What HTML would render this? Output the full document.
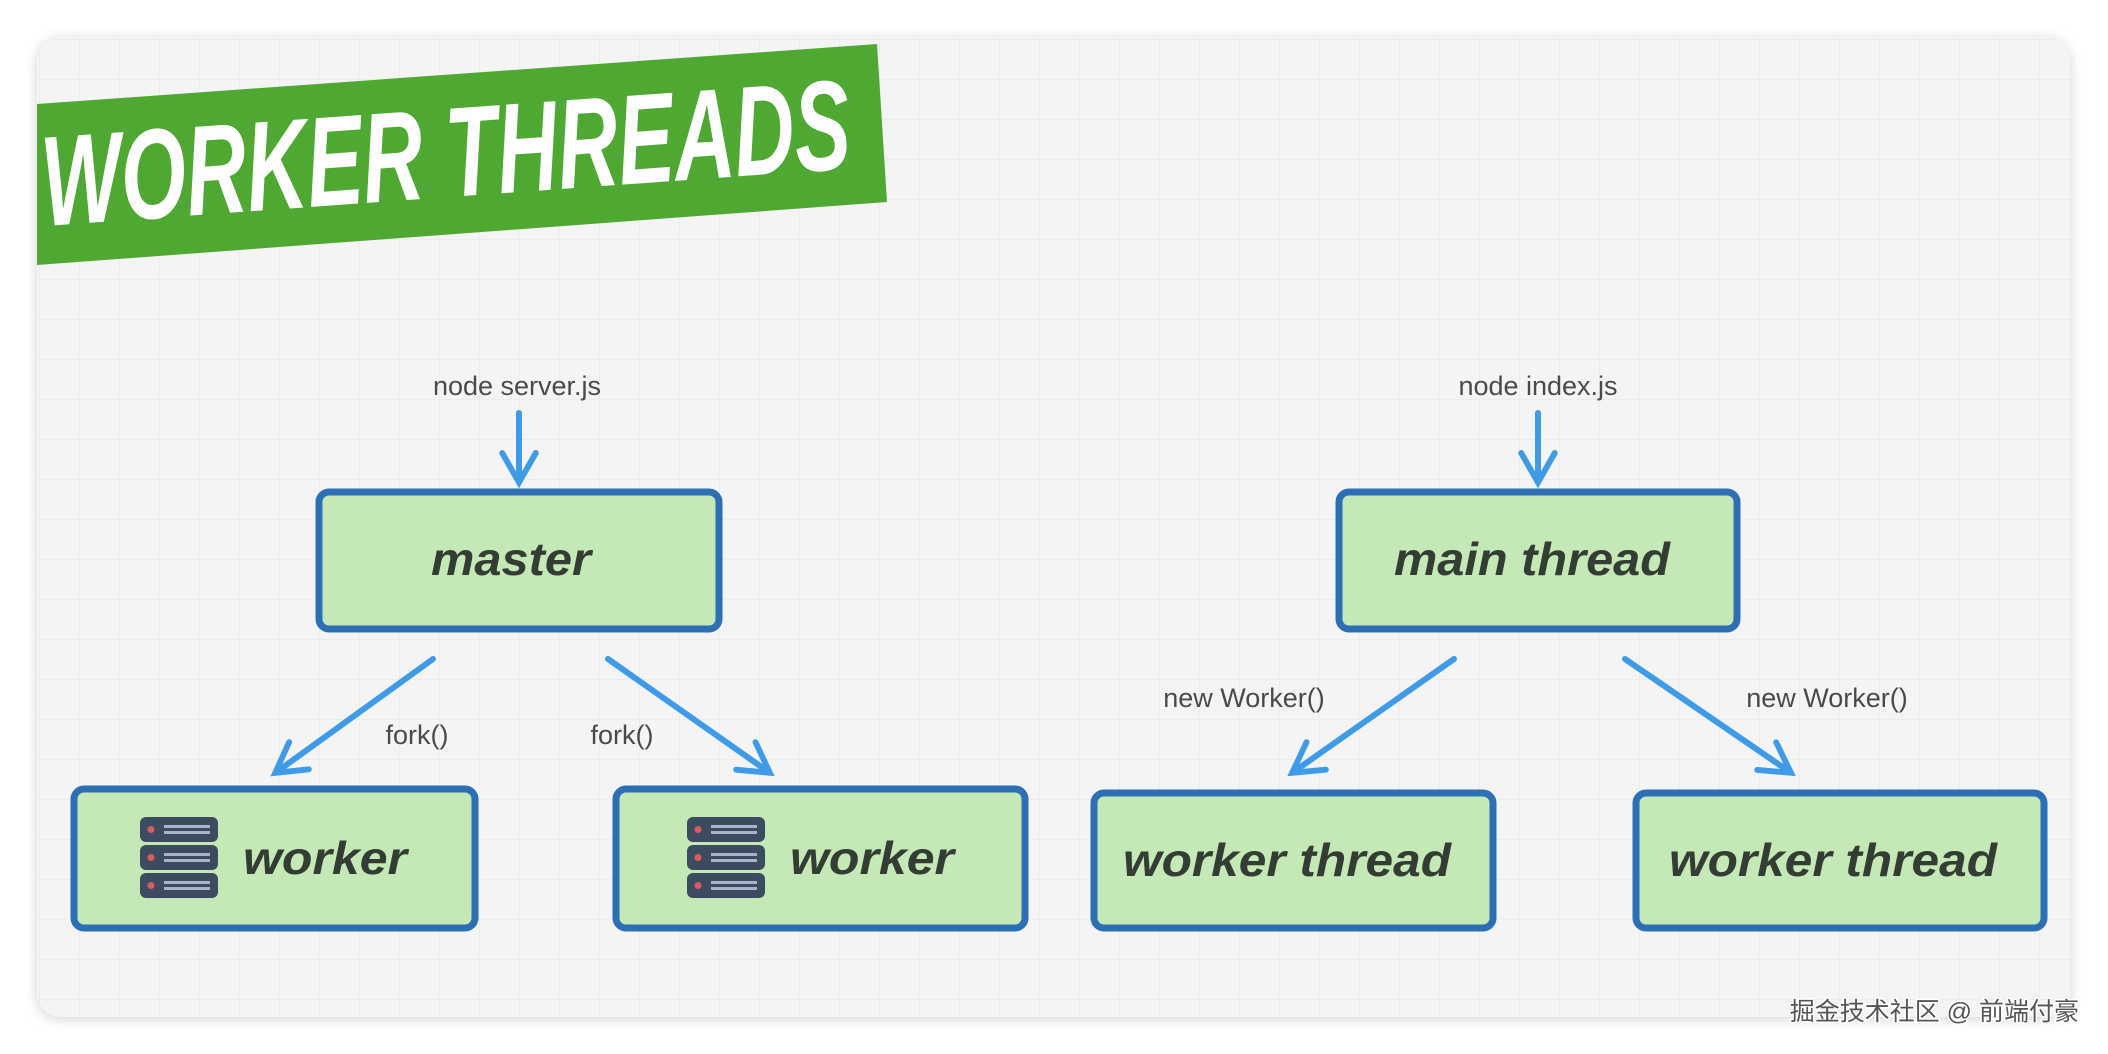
<!DOCTYPE html>
<html><head><meta charset="utf-8"><style>
html,body{margin:0;padding:0;background:#fff;width:2108px;height:1054px;overflow:hidden}
svg{display:block}
</style></head><body>
<svg width="2108" height="1054" viewBox="0 0 2108 1054" xmlns="http://www.w3.org/2000/svg">
<defs>
<pattern id="grid" width="40" height="40" patternUnits="userSpaceOnUse">
<path d="M40 0V40H0" fill="none" stroke="#e8e8e8" stroke-width="1.2"/>
</pattern>
<filter id="sh" x="-5%" y="-5%" width="110%" height="110%"><feDropShadow dx="0" dy="2" stdDeviation="6" flood-color="#000" flood-opacity="0.18"/></filter>
<marker id="ah" viewBox="0 0 10 10" refX="6" refY="5" markerWidth="7" markerHeight="7" orient="auto"><path d="M1 1L8 5L1 9" fill="none" stroke="#3f9be8" stroke-width="1.4" stroke-linecap="round"/></marker>
<g id="srv">
<rect x="0" y="0" width="78" height="25" rx="6" fill="#3c4b5f"/>
<circle cx="11" cy="12.5" r="3.5" fill="#e05a5a"/>
<rect x="24" y="8" width="46" height="3" fill="#a8b4c8"/><rect x="24" y="14" width="46" height="3" fill="#a8b4c8"/>
</g>
</defs>
<rect x="37" y="37" width="2033" height="980" rx="24" fill="#f4f4f4" filter="url(#sh)"/>
<rect x="37" y="37" width="2033" height="980" rx="24" fill="url(#grid)"/>
<polygon points="37,104 877,44 887,202 37,265" fill="#4fa832"/>
<text x="45" y="226" transform="rotate(-4.1 45 226)" font-family="Liberation Sans, sans-serif" font-weight="bold" font-style="italic" font-size="128" fill="#fff" textLength="810" lengthAdjust="spacingAndGlyphs">WORKER THREADS</text>
<g font-family="Liberation Sans, sans-serif" fill="#4a4a4a" font-size="27" text-anchor="middle">
<text x="517" y="395">node server.js</text>
<text x="1538" y="395">node index.js</text>
<text x="417" y="744">fork()</text>
<text x="622" y="744">fork()</text>
<text x="1244" y="707">new Worker()</text>
<text x="1827" y="707">new Worker()</text>
</g>
<g stroke="#3f9be8" stroke-width="6" stroke-linecap="round" marker-end="url(#ah)" fill="none">
<line x1="519" y1="413" x2="519" y2="474"/>
<line x1="1538" y1="413" x2="1538" y2="474"/>
<line x1="433" y1="659" x2="282" y2="768"/>
<line x1="608" y1="659" x2="763" y2="768"/>
<line x1="1454" y1="659" x2="1299" y2="768"/>
<line x1="1625" y1="659" x2="1784" y2="768"/>
</g>
<g fill="#c5e8b7" stroke="#2d6fb5" stroke-width="7">
<rect x="319" y="492" width="400" height="137" rx="10"/>
<rect x="74" y="789" width="401" height="139" rx="10"/>
<rect x="616" y="789" width="409" height="139" rx="10"/>
<rect x="1339" y="492" width="398" height="137" rx="10"/>
<rect x="1094" y="793" width="399" height="135" rx="10"/>
<rect x="1636" y="793" width="408" height="135" rx="10"/>
</g>
<use href="#srv" x="140" y="817"/><use href="#srv" x="140" y="845"/><use href="#srv" x="140" y="873"/>
<use href="#srv" x="687" y="817"/><use href="#srv" x="687" y="845"/><use href="#srv" x="687" y="873"/>
<g font-family="Liberation Sans, sans-serif" font-weight="bold" font-style="italic" font-size="46" fill="#333d33">
<text x="431" y="575" textLength="160" lengthAdjust="spacingAndGlyphs">master</text>
<text x="243" y="874" textLength="164" lengthAdjust="spacingAndGlyphs">worker</text>
<text x="790" y="874" textLength="164" lengthAdjust="spacingAndGlyphs">worker</text>
<text x="1394" y="575" textLength="276" lengthAdjust="spacingAndGlyphs">main thread</text>
<text x="1123" y="876" textLength="328" lengthAdjust="spacingAndGlyphs">worker thread</text>
<text x="1669" y="876" textLength="328" lengthAdjust="spacingAndGlyphs">worker thread</text>
</g>
<text x="2079" y="1020" text-anchor="end" font-family="Liberation Sans, 'Noto Sans CJK SC', sans-serif" font-size="25" fill="#555" stroke="#fff" stroke-width="3" paint-order="stroke">掘金技术社区 @ 前端付豪</text>
</svg>
</body></html>
